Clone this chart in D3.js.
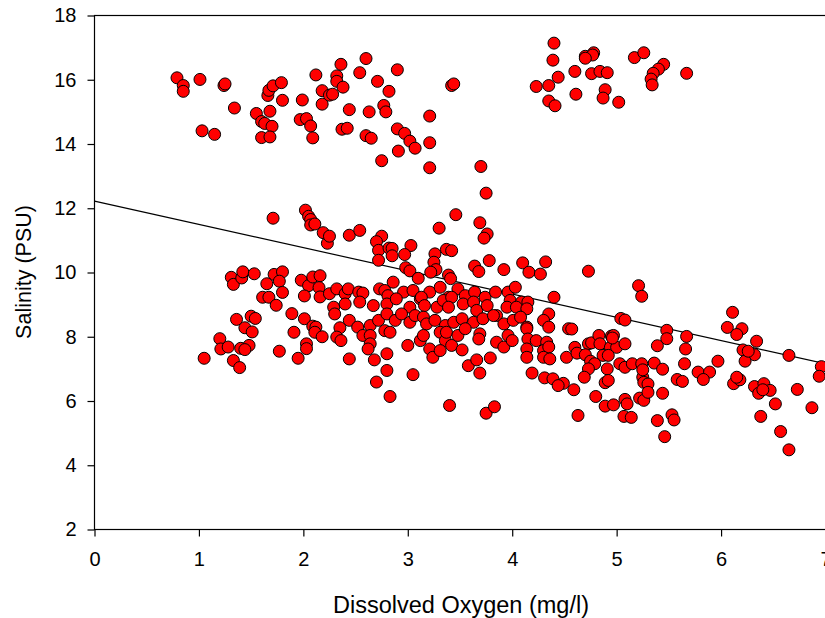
<!DOCTYPE html>
<html><head><meta charset="utf-8">
<script src="https://cdn.jsdelivr.net/npm/d3@7"></script>
<style>body{margin:0;background:#fff;overflow:hidden} text{font-family:Arial,"Liberation Sans",sans-serif;fill:#000}</style>
</head><body><svg id="c" width="825" height="618"></svg>
<script>
const xTicks = [0,1,2,3,4,5,6,7];
const yTicks = [2,4,6,8,10,12,14,16,18];
const xTitle = "Dissolved Oxygen (mg/l)";
const yTitle = "Salinity (PSU)";
const trendLine = [[0,12.22],[7,7.16]];
// [dissolved oxygen, salinity]
const observations = [
[0.79,16.06],[0.85,15.82],[0.85,15.64],[1.01,16.01],[1.24,15.82],[1.25,15.87],[1.34,15.12],[1.03,14.41],[1.15,14.30],[1.55,14.95],[1.60,14.70],[1.63,14.64],[1.70,14.55],[1.68,15.02],[1.60,14.20],[1.68,14.22],[1.66,15.51],[1.67,15.67],[1.71,15.81],[1.79,15.91],[1.80,15.36],[1.99,15.37],[1.97,14.76],[2.03,14.79],[2.07,14.56],[2.09,14.19],[2.12,16.15],[2.18,15.66],[2.18,15.24],[2.25,15.52],
[2.28,15.55],[2.36,16.48],[2.32,16.12],[2.32,15.95],[2.38,15.77],[2.60,16.66],[2.54,16.22],[2.71,15.95],[2.82,15.64],[2.90,16.31],[2.44,15.07],[2.63,15.00],[2.77,15.20],[2.79,15.00],[2.37,14.46],[2.42,14.49],[2.60,14.26],[2.65,14.18],[2.90,14.47],[2.97,14.33],[3.02,14.09],[3.07,13.87],[2.91,13.78],[2.75,13.48],[3.21,14.87],[3.21,14.04],[3.21,13.26],[3.42,15.82],[3.44,15.87],[3.70,13.30],[3.75,12.47],
[4.40,17.14],[4.39,16.61],[4.44,16.08],[4.23,15.79],[4.35,15.82],[4.35,15.34],[4.41,15.19],[4.60,16.26],[4.61,15.55],[4.70,16.73],[4.78,16.84],[4.77,16.77],[4.70,16.67],[4.76,16.19],[4.84,16.26],[4.91,16.22],[4.89,15.69],[4.87,15.43],[5.02,15.30],[5.17,16.69],[5.26,16.84],[5.45,16.48],[5.40,16.33],[5.35,16.20],[5.33,16.02],[5.34,15.84],[5.67,16.20],
[1.71,11.69],[2.02,11.94],[2.05,11.75],[2.07,11.65],[2.07,11.48],[2.11,11.51],[2.19,11.24],[2.23,10.91],[1.31,9.85],[1.33,9.63],[1.41,9.83],[1.42,10.02],[1.53,9.96],[1.72,9.94],[1.80,10.02],[1.77,9.73],[1.65,9.65],[1.80,9.38],[1.61,9.23],[1.67,9.23],[1.74,8.98],[1.98,9.76],[2.05,9.59],[2.09,9.86],[2.16,9.90],[2.15,9.53],[2.01,9.27],[2.16,9.24],[2.25,9.34],[1.89,8.72],[2.01,8.56],[1.36,8.54],[1.50,8.64],[1.54,8.57],[1.44,8.28],[1.51,8.15],[1.91,8.14],[2.09,8.33],[2.12,8.30],[2.11,8.14],[2.18,8.00],[1.20,7.94],[1.21,7.62],[1.28,7.68],[1.40,7.64],[1.48,7.73],[1.44,7.60],[2.03,7.78],[2.03,7.63],[1.77,7.55],[1.05,7.33],[1.33,7.26],[1.39,7.04],[1.95,7.33],
[3.46,11.80],[3.30,11.38],[3.69,11.55],[3.76,11.20],[3.73,11.07],[2.25,11.13],[2.44,11.16],[2.54,11.31],[2.75,11.13],[2.70,10.96],[2.72,10.69],[2.82,10.76],[2.85,10.75],[2.85,10.52],[2.72,10.38],[3.03,10.84],[2.97,10.56],[3.26,10.58],[3.25,10.32],[3.37,10.72],[3.42,10.68],[3.27,10.09],[3.22,10.01],[2.98,10.15],[3.02,10.05],[3.10,9.82],[3.39,9.92],[3.41,9.81],[3.64,10.20],[3.68,10.03],[3.78,10.37],[3.92,10.09],[4.10,10.30],[4.16,10.01],[4.27,9.95],[4.32,10.33],
[2.32,9.49],[2.40,9.34],[2.43,9.49],[2.53,9.39],[2.57,9.36],[2.73,9.49],[2.78,9.44],[2.81,9.28],[2.86,9.70],[2.96,9.39],[3.05,9.44],[3.12,9.18],[3.21,9.39],[3.31,9.54],[3.39,9.23],[3.48,9.49],[3.55,9.28],[3.64,9.39],[3.74,9.23],[3.84,9.39],[3.96,9.39],[4.03,9.54],[3.98,9.13],[4.09,9.08],[4.15,9.08],[4.40,9.23],
[2.29,8.92],[2.40,9.02],[2.54,9.08],[2.67,8.97],[2.80,9.02],[2.89,9.18],[3.02,8.92],[3.13,9.23],[3.16,8.97],[3.28,8.92],[3.34,9.13],[3.42,9.23],[3.39,8.92],[3.53,9.02],[3.63,9.08],[3.66,8.82],[3.76,8.97],[3.85,8.66],[3.95,8.92],[4.04,8.92],[4.14,8.87],[4.35,8.71],
[2.30,8.71],[2.44,8.51],[2.52,8.30],[2.64,8.35],[2.72,8.51],[2.80,8.71],[2.88,8.51],[2.94,8.71],[3.02,8.45],[3.07,8.66],[3.15,8.61],[3.18,8.40],[3.26,8.51],[3.36,8.35],[3.44,8.45],[3.52,8.56],[3.63,8.45],[3.72,8.56],[3.82,8.66],[3.92,8.40],[4.01,8.51],[4.08,8.61],[4.14,8.30],[4.30,8.51],[4.35,8.30],
[2.35,8.28],[2.32,7.99],[2.36,7.88],[2.57,8.04],[2.64,8.04],[2.64,7.78],[2.62,7.62],[2.78,8.19],[2.83,8.14],[3.00,7.73],[3.12,7.88],[3.15,8.04],[3.21,7.62],[3.31,8.14],[3.36,7.88],[3.37,8.14],[3.42,7.73],[3.48,8.04],[3.55,8.25],[3.69,8.09],[3.68,7.93],[3.85,7.83],[3.92,7.68],[3.96,8.04],[4.00,7.88],[4.14,8.25],[4.15,7.93],[4.23,7.88],[4.33,7.83],[4.14,7.62],[4.30,7.57],[4.35,7.68],
[2.44,7.31],[2.68,7.28],[2.80,7.47],[3.24,7.36],[3.31,7.57],[3.52,7.59],[3.58,7.10],[3.66,7.28],[3.79,7.34],[4.14,7.36],[4.30,7.36],[4.36,7.31],
[2.80,6.95],[2.70,6.59],[3.05,6.82],[3.69,6.87],[4.19,6.87],[4.31,6.72],[4.39,6.69],
[4.54,8.25],[4.52,7.36],[4.49,6.55],[4.44,6.48],[2.83,6.14],[3.40,5.86],[3.75,5.62],[3.83,5.82],
[4.73,10.04],[5.21,9.59],[5.24,9.26],[5.04,8.57],[5.08,8.52],[4.57,8.24],[5.48,8.20],[5.48,7.94],[5.67,8.01],[5.66,7.62],[6.11,8.76],[6.06,8.29],[6.20,8.25],[6.15,8.07],[6.34,7.86],[6.21,7.59],[6.32,7.44],[6.23,7.24],[6.65,7.42],[6.96,7.07],[6.94,6.77],[5.39,7.72],[5.65,7.16],[5.97,7.24],[5.78,6.90],[5.89,6.90],[5.83,6.67],[5.36,7.18],[5.44,6.99],[5.58,6.67],[5.63,6.61],[6.12,6.54],[6.18,6.66],[6.15,6.74],[6.32,6.45],[6.41,6.54],[6.47,6.33],[6.73,6.36],[4.60,7.67],[4.62,7.49],
[4.73,7.78],[4.76,7.81],[4.83,8.04],[4.84,7.78],[4.95,8.02],[4.97,8.04],[4.94,7.67],[5.00,7.67],[5.08,7.78],
[4.70,7.44],[4.75,7.24],[4.79,7.16],[4.87,7.42],[4.92,7.42],[4.91,7.00],[5.03,7.16],[5.08,7.05],[5.15,7.16],[5.24,7.16],
[4.73,7.00],[4.69,6.74],[4.89,6.57],[4.92,6.64],[5.25,6.74],[5.26,6.58],[5.30,6.53],[5.25,6.97],
[4.63,5.55],[4.80,6.14],[4.89,5.84],[4.97,5.88],[5.08,6.05],[5.10,5.91],[5.07,5.52],[5.14,5.49],[4.59,6.35],
[5.22,6.09],[5.26,6.02],[5.30,6.27],[5.44,6.24],[5.39,5.39],[5.53,5.57],[5.55,5.41],[5.46,4.89],
[6.36,6.24],[6.40,6.35],[6.52,5.91],[6.38,5.52],[6.57,5.05],[6.65,4.48],[6.87,5.79],[6.26,7.55],[4.96,7.96]
];

const svg = d3.select("#c");
const x = d3.scaleLinear().domain([0,7]).range([94.5,825.5]);
const y = d3.scaleLinear().domain([2,18]).range([529.5,15.5]);

// trend line
svg.append("line")
  .attr("x1", x(trendLine[0][0])).attr("y1", y(trendLine[0][1]))
  .attr("x2", x(trendLine[1][0])).attr("y2", y(trendLine[1][1]))
  .attr("stroke","#000").attr("stroke-width",1.2);

// points
svg.append("g").selectAll("circle").data(observations).join("circle")
  .attr("cx", d => x(d[0])).attr("cy", d => y(d[1])).attr("r", 6)
  .attr("fill","#ff0000").attr("stroke","#000").attr("stroke-width",1);

// frame
svg.append("rect").attr("x", x(0)).attr("y", y(18))
  .attr("width", x(7)-x(0)+1).attr("height", y(2)-y(18))
  .attr("fill","none").attr("stroke","#000").attr("stroke-width",1.2);

const fs = 20;
const gx = svg.append("g").attr("transform",`translate(0,${y(2)})`)
  .call(d3.axisBottom(x).tickValues(xTicks).tickFormat(d3.format("d")).tickSize(7).tickPadding(15));
const gy = svg.append("g").attr("transform",`translate(${x(0)},0)`)
  .call(d3.axisLeft(y).tickValues(yTicks).tickFormat(d3.format("d")).tickSize(7).tickPadding(11));
[gx,gy].forEach(g=>{
  g.select(".domain").remove();
  g.selectAll(".tick line").attr("stroke","#000").attr("stroke-width",1.2);
  g.selectAll(".tick text").attr("font-size",fs).attr("font-family","Arial, 'Liberation Sans', sans-serif").attr("fill","#000");
});

svg.append("text").attr("x",461).attr("y",613).attr("text-anchor","middle")
  .attr("font-size",23.5).text(xTitle);
svg.append("text").attr("transform","translate(31,272) rotate(-90)").attr("text-anchor","middle")
  .attr("font-size",21.5).text(yTitle);
</script></body></html>
